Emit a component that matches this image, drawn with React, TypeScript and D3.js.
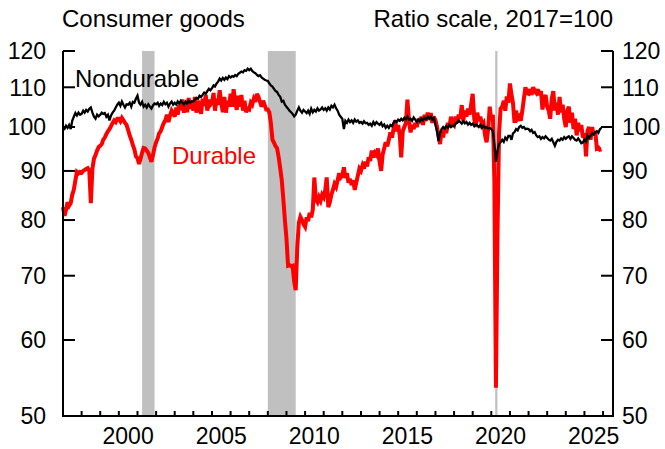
import React from 'react';
import * as d3 from 'd3';

const START_YEAR = 1997;

// Durable consumer goods, monthly from Jan 1997 (2017=100)
const durable: number[] = [
  82.5, 80.8, 82.0, 83.5, 82.8, 83.3, 85.0, 86.0, 88.0, 89.8, 89.5, 89.8, // 1997
  89.6, 90.0, 90.2, 90.4, 90.6, 90.0, 83.3, 90.5, 92.7, 93.5, 94.5, 95.3, // 1998
  95.6, 96.0, 97.0, 97.5, 98.3, 99.0, 99.5, 100.2, 101.0, 101.6, 101.2, 102.0, // 1999
  102.0, 101.4, 102.2, 101.6, 101.0, 100.5, 99.3, 98.0, 97.0, 95.8, 94.8, 93.2, // 2000
  92.8, 91.5, 92.6, 94.0, 95.1, 95.0, 94.5, 94.0, 93.0, 92.0, 93.5, 95.2, // 2001
  96.4, 97.3, 98.5, 99.0, 100.0, 101.0, 101.6, 103.0, 101.2, 102.8, 104.0, 103.3, // 2002
  102.5, 104.8, 103.0, 105.5, 104.2, 106.8, 103.5, 105.8, 103.6, 107.2, 104.5, 106.0, // 2003
  104.0, 107.5, 103.5, 106.5, 105.0, 103.2, 107.0, 105.2, 108.0, 104.0, 106.8, 105.5, // 2004
  106.0, 108.5, 104.0, 107.0, 105.5, 109.2, 106.0, 103.6, 107.5, 103.5, 106.5, 105.0, // 2005
  108.3, 105.0, 109.5, 106.5, 104.2, 107.8, 105.0, 108.0, 104.0, 106.5, 103.6, 104.5, // 2006
  104.3, 106.0, 105.5, 107.0, 106.2, 108.3, 107.5, 106.2, 105.0, 106.5, 105.4, 104.3, // 2007
  104.3, 103.5, 101.0, 97.0, 96.3, 95.5, 95.0, 93.0, 90.5, 88.0, 84.0, 80.0, // 2008
  76.5, 71.7, 71.8, 71.6, 71.7, 69.0, 67.6, 75.0, 79.5, 80.6, 80.0, 79.2, // 2009
  78.7, 80.5, 79.8, 81.4, 80.5, 82.0, 88.6, 84.0, 83.5, 84.5, 83.8, 85.0, // 2010
  84.5, 86.0, 88.6, 82.5, 83.5, 85.0, 86.0, 87.2, 86.6, 88.0, 89.5, 88.6, // 2011
  89.0, 90.8, 88.5, 89.5, 87.5, 88.3, 87.0, 88.0, 86.0, 87.5, 89.0, 90.5, // 2012
  90.0, 91.2, 90.5, 92.0, 91.0, 93.0, 92.2, 94.5, 93.0, 94.0, 93.5, 95.0, // 2013
  92.0, 90.0, 93.5, 95.0, 96.4, 95.5, 97.0, 98.7, 97.5, 99.5, 101.6, 99.0, // 2014
  100.5, 98.0, 93.0, 99.0, 100.0, 101.0, 106.8, 101.5, 98.7, 100.5, 99.5, 101.0, // 2015
  100.0, 102.0, 101.0, 102.5, 100.5, 103.0, 101.5, 103.5, 102.0, 103.4, 101.0, 102.5, // 2016
  101.6, 100.0, 98.0, 96.0, 99.0, 97.5, 100.0, 98.5, 101.0, 100.0, 102.5, 101.0, // 2017
  100.5, 102.5, 101.0, 103.0, 102.0, 105.4, 101.5, 104.0, 102.5, 104.5, 103.0, 105.5, // 2018
  108.3, 102.0, 100.0, 103.5, 101.5, 102.5, 100.5, 101.0, 98.0, 96.4, 99.5, 105.0, // 2019
  101.6, 103.0, 88.0, 53.5, 77.0, 98.5, 104.5, 105.0, 106.5, 104.0, 107.6, 106.0, // 2020
  111.0, 108.0, 106.0, 101.0, 104.0, 102.0, 102.5, 101.5, 104.0, 107.0, 110.0, 108.5, // 2021
  108.3, 109.5, 108.0, 110.0, 109.0, 108.5, 109.5, 108.0, 109.0, 104.3, 107.0, 108.0, // 2022
  105.0, 104.0, 102.0, 107.0, 109.0, 104.0, 106.0, 103.0, 107.5, 103.6, 105.5, 102.0, // 2023
  100.0, 104.0, 105.0, 101.0, 103.5, 99.5, 102.0, 98.0, 101.0, 99.0, 100.5, 97.5, // 2024
  98.5, 93.2, 99.0, 100.0, 97.0, 100.0, 98.0, 99.0, 95.0, 95.2, 94.7, 94.8, // 2025
];

// Nondurable consumer goods, monthly from Jan 1997 (2017=100)
const nondurable: number[] = [
  100.0, 99.6, 100.3, 99.8, 100.5, 99.5, 101.5, 102.5, 103.4, 102.8, 103.5, 103.0, // 1997
  103.2, 104.0, 103.5, 104.2, 103.8, 104.5, 104.8, 103.5, 102.5, 102.0, 103.0, 102.6, // 1998
  103.0, 103.5, 103.2, 103.4, 102.5, 103.0, 101.6, 102.8, 103.5, 104.0, 104.8, 105.5, // 1999
  106.0, 105.2, 106.3, 105.5, 104.8, 105.6, 105.5, 106.0, 105.0, 106.2, 106.0, 107.0, // 2000
  107.8, 106.0, 105.5, 106.2, 105.0, 105.5, 104.8, 105.6, 105.0, 104.5, 105.3, 105.8, // 2001
  105.6, 106.0, 105.2, 105.8, 105.4, 106.2, 105.6, 106.0, 105.0, 105.8, 106.3, 105.5, // 2002
  106.0, 105.5, 106.3, 105.8, 106.5, 106.0, 105.5, 106.3, 105.8, 106.5, 106.0, 106.4, // 2003
  106.3, 106.8, 107.2, 107.0, 107.8, 107.5, 108.0, 108.6, 108.3, 109.0, 109.6, 109.2, // 2004
  109.8, 110.5, 110.2, 111.0, 111.5, 112.3, 111.8, 112.5, 112.0, 112.6, 112.2, 113.0, // 2005
  112.6, 113.0, 112.8, 113.3, 113.0, 113.6, 113.9, 114.2, 114.0, 114.6, 114.4, 115.0, // 2006
  114.6, 115.0, 114.4, 114.0, 113.8, 113.3, 113.0, 113.2, 112.6, 112.3, 112.0, 111.8, // 2007
  111.7, 111.0, 110.5, 110.2, 109.6, 109.0, 108.8, 108.0, 107.5, 106.3, 106.5, 105.5, // 2008
  105.0, 104.5, 104.0, 103.6, 103.2, 102.6, 103.0, 104.0, 104.8, 104.0, 103.5, 104.2, // 2009
  103.8, 103.4, 104.0, 103.2, 104.5, 103.6, 104.2, 103.8, 104.6, 104.0, 104.3, 104.8, // 2010
  104.2, 104.6, 104.0, 104.8, 104.3, 105.2, 104.8, 105.5, 104.6, 104.0, 103.0, 102.5, // 2011
  102.0, 99.5, 101.5, 101.0, 101.8, 101.2, 101.6, 101.0, 101.8, 101.3, 101.6, 101.0, // 2012
  101.2, 100.8, 101.4, 100.9, 101.0, 100.5, 100.8, 100.3, 101.2, 100.6, 101.2, 100.8, // 2013
  100.5, 101.0, 100.2, 100.6, 99.8, 100.3, 99.8, 100.5, 100.2, 101.0, 101.5, 101.2, // 2014
  101.8, 101.5, 102.0, 101.6, 102.2, 101.8, 102.5, 101.8, 102.0, 101.5, 102.3, 101.8, // 2015
  101.2, 101.8, 101.3, 102.0, 101.6, 102.2, 101.8, 102.5, 102.0, 102.5, 101.8, 102.2, // 2016
  100.5, 99.0, 96.7, 98.5, 99.5, 100.0, 99.6, 100.2, 99.8, 100.5, 100.0, 100.3, // 2017
  100.2, 100.8, 101.0, 101.6, 101.2, 100.8, 101.4, 100.9, 101.2, 100.6, 101.0, 100.5, // 2018
  100.8, 100.2, 100.6, 100.4, 100.0, 100.5, 99.8, 100.3, 99.8, 100.0, 99.6, 99.8, // 2019
  99.5, 99.0, 96.0, 92.0, 94.5, 96.0, 96.4, 97.0, 96.5, 97.5, 97.0, 97.9, // 2020
  97.9, 97.0, 98.5, 98.8, 99.5, 99.2, 100.0, 100.3, 99.8, 100.0, 99.5, 99.6, // 2021
  99.5, 99.0, 99.3, 98.6, 98.8, 98.0, 97.6, 97.8, 97.2, 97.6, 97.3, 97.8, // 2022
  97.4, 97.0, 96.8, 97.2, 96.4, 95.6, 96.5, 97.0, 96.8, 97.3, 97.0, 97.6, // 2023
  97.2, 97.6, 97.8, 97.2, 97.8, 97.4, 97.0, 96.8, 97.3, 96.8, 96.2, 96.4, // 2024
  97.0, 96.5, 98.0, 97.4, 97.9, 98.5, 98.2, 98.8, 99.0, 98.6, 99.5, 99.8, // 2025
];

const yTickValues = [50, 60, 70, 80, 90, 100, 110, 120];
const xLabelYears = [2000, 2005, 2010, 2015, 2020, 2025];
// recession shading: [start, end] as [year, monthIndex, day]
const recessions: [number, number, number][][] = [
  [[2001, 3, 1], [2001, 11, 1]],
  [[2008, 0, 1], [2009, 6, 1]],
  [[2020, 2, 18], [2020, 4, 1]],
];

const W = 665;
const H = 449;
const FONT = "'Liberation Sans', Arial, Helvetica, sans-serif";

export default function App() {
  const left = 63;
  const right = 613;
  const top = 51;
  const bottom = 416;

  const x = d3
    .scaleUtc()
    .domain([new Date(Date.UTC(START_YEAR, 0, 1)), new Date(Date.UTC(2026, 6, 15))])
    .range([left, right]);
  const y = d3.scaleLog().domain([50, 120]).range([bottom, top]);

  const monthDate = (i: number) => new Date(Date.UTC(START_YEAR, i, 1));

  const line = d3
    .line<number>()
    .x((_, i) => x(monthDate(i)))
    .y((d) => y(d));

  const yearTicks = d3.utcYear.range(
    new Date(Date.UTC(1998, 0, 1)),
    new Date(Date.UTC(2026, 0, 2))
  );

  return (
    <svg
      width={W}
      height={H}
      style={{ position: 'absolute', left: 0, top: 0, background: '#fff' }}
      fontFamily={FONT}
    >
      <rect x={0} y={0} width={W} height={H} fill="#fff" />
      {recessions.map((r, i) => {
        const x0 = x(new Date(Date.UTC(r[0][0], r[0][1], r[0][2])));
        const x1 = x(new Date(Date.UTC(r[1][0], r[1][1], r[1][2])));
        return <rect key={i} x={x0} y={top} width={x1 - x0} height={bottom - top} fill="#c0c0c0" />;
      })}
      <path d={line(durable) || ''} fill="none" stroke="#ff0000" strokeWidth={4} strokeLinejoin="miter" strokeMiterlimit={3} />
      <path d={line(nondurable) || ''} fill="none" stroke="#000" strokeWidth={2.3} strokeLinejoin="miter" strokeMiterlimit={3} />

      {/* axes */}
      <path
        d={`M${left},${top}V${bottom}H${right}V${top}`}
        fill="none"
        stroke="#000"
        strokeWidth={2}
      />
      {yTickValues.map((v) => (
        <g key={v}>
          <line x1={left} x2={left + 12} y1={y(v)} y2={y(v)} stroke="#000" strokeWidth={2} />
          <line x1={right - 12} x2={right} y1={y(v)} y2={y(v)} stroke="#000" strokeWidth={2} />
          <text x={46} y={y(v)} dy="0.36em" textAnchor="end" fontSize={23}>
            {v}
          </text>
          <text x={622} y={y(v)} dy="0.36em" textAnchor="start" fontSize={23}>
            {v}
          </text>
        </g>
      ))}
      {yearTicks.map((d, i) => (
        <line key={i} x1={x(d)} x2={x(d)} y1={bottom} y2={bottom - 5} stroke="#000" strokeWidth={2} />
      ))}
      {xLabelYears.map((yr) => (
        <text key={yr} x={x(new Date(Date.UTC(yr, 6, 1)))} y={444} textAnchor="middle" fontSize={23}>
          {yr}
        </text>
      ))}

      <text x={62} y={27} fontSize={24}>Consumer goods</text>
      <text x={613} y={27} fontSize={24} textAnchor="end">Ratio scale, 2017=100</text>
      <text x={75} y={87} fontSize={24}>Nondurable</text>
      <text x={172} y={164} fontSize={24} fill="#ff0000">Durable</text>
    </svg>
  );
}
